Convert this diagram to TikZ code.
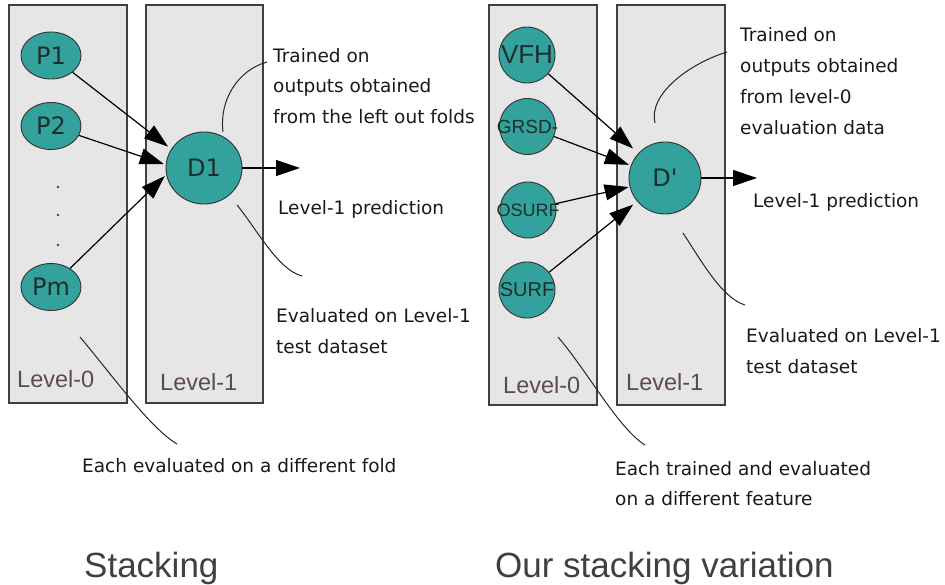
\documentclass[tikz,border=0pt]{standalone}
\usepackage{fontspec}
\setmainfont{Liberation Sans}
\newfontfamily\annfont{DejaVu Sans}
\usetikzlibrary{arrows.meta,shapes.geometric}
\definecolor{tealfill}{HTML}{33A29D}
\definecolor{panelfill}{HTML}{E6E6E6}
\definecolor{panelline}{HTML}{404040}
\definecolor{levelcol}{HTML}{5E4B4B}
\definecolor{nodetext}{HTML}{1C2E2E}
\definecolor{titlecol}{HTML}{404040}
\newcommand{\nolab}[1]{\makebox[0pt][c]{#1}}
\begin{document}
\begin{tikzpicture}[x=1pt,y=-1pt,
  panel/.style={draw=panelline,line width=1.2pt,fill=panelfill,inner sep=0pt},
  lvl/.style={anchor=base west,inner sep=0pt,text=levelcol,font=\fontsize{23.5}{26}\selectfont},
  ellnode/.style={ellipse,draw=black!80,line width=0.9pt,fill=tealfill,inner sep=0pt,text=nodetext},
  cirnode/.style={circle,draw=black!80,line width=0.9pt,fill=tealfill,inner sep=0pt,text=nodetext,minimum size=56pt},
  gfont/.style={font=\annfont\fontsize{24}{26}\selectfont},
  ann/.style={anchor=base west,inner sep=0pt,font=\annfont\fontsize{18.5}{22}\selectfont,text=black!90},
  title/.style={anchor=base west,inner sep=0pt,font=\fontsize{35}{40}\selectfont,text=titlecol},
  arr/.style={line width=1.2pt,-{Triangle[length=24pt,width=16pt]}},
  note/.style={line width=1pt,black!85}
]
\useasboundingbox (0,0) rectangle (945,585);

% ---------------- Stacking (left) ----------------
\node[panel,minimum width=118pt,minimum height=398pt] (L0a) at (68,204) {};
\node[panel,minimum width=117pt,minimum height=398pt] (L1a) at (204.5,204) {};
\node[lvl] (lv0a) at (17,387) {Level-0};
\node[lvl] (lv1a) at (160,390) {Level-1};

\node[ellnode,gfont,minimum width=60pt,minimum height=47pt] (P1) at (51,55.5) {\nolab{P1}};
\node[ellnode,gfont,minimum width=60pt,minimum height=47pt] (P2) at (51,126) {\nolab{P2}};
\node[ellnode,gfont,minimum width=60pt,minimum height=47pt] (Pm) at (51,287) {\nolab{Pm}};
\node[ellnode,gfont,minimum width=76pt,minimum height=72pt] (D1) at (204,168) {\nolab{D1}};

\fill[black!75] (58,187) circle (1.3pt) (58,215) circle (1.3pt) (58,245) circle (1.3pt);

\draw[arr,shorten >=4pt] (P1) -- (D1.150);
\draw[arr,shorten >=2pt] (P2) -- (D1.175);
\draw[arr,shorten >=2pt] (Pm) -- (D1.190);
\coordinate (outa) at (300,168);
\draw[arr] (D1.east) -- (outa);

\node[ann] (ta1) at (273,63) {Trained on};
\node[ann] (ta2) at (273,93) {outputs obtained};
\node[ann] (ta3) at (273,124) {from the left out folds};
\node[ann] (pa) at (278,215) {Level-1 prediction};
\node[ann] (ea1) at (276,323) {Evaluated on Level-1};
\node[ann] (ea2) at (276,353) {test dataset};
\node[ann] (ba) at (82,472) {Each evaluated on a different fold};
\node[title] (sa) at (84,577) {Stacking};

\coordinate (c1s) at (223,132); \coordinate (c1e) at (267,62);
\draw[note] (c1s) .. controls (219,100) and (238,70) .. (c1e);
\coordinate (c2s) at (237,205); \coordinate (c2e) at (302,276);
\draw[note] (c2s) .. controls (256,228) and (278,270) .. (c2e);
\coordinate (c3s) at (80,337); \coordinate (c3e) at (177,444);
\draw[note] (c3s) .. controls (112,375) and (150,428) .. (c3e);

% ---------------- Our stacking variation (right) ----------------
\node[panel,minimum width=108pt,minimum height=400pt] (L0b) at (543,205) {};
\node[panel,minimum width=108pt,minimum height=400pt] (L1b) at (671,205) {};
\node[lvl] (lv0b) at (503,393) {Level-0};
\node[lvl] (lv1b) at (626,390) {Level-1};

\node[cirnode,font=\fontsize{26}{28}\selectfont] (VFH) at (527,55) {\nolab{VFH}};
\node[cirnode,font=\fontsize{19}{21}\selectfont] (GRSD) at (527.5,126.5) {\nolab{GRSD-}};
\node[cirnode,font=\fontsize{18}{20}\selectfont] (OSURF) at (528,210) {\nolab{OSURF}};
\node[cirnode,font=\fontsize{20}{22}\selectfont] (SURF) at (527,290) {\nolab{SURF}};
\node[cirnode,gfont,minimum size=72pt] (Dp) at (665,178) {\nolab{D'}};

\draw[arr,shorten >=7pt] (VFH) -- (Dp.137);
\draw[arr,shorten >=2pt] (GRSD) -- (Dp.160);
\draw[arr,shorten >=1pt] (OSURF) -- (Dp.194);
\draw[arr,shorten >=5pt] (SURF) -- (Dp.220);
\coordinate (outb) at (757,178);
\draw[arr] (Dp.east) -- (outb);

\node[ann] (tb1) at (740,42) {Trained on};
\node[ann] (tb2) at (740,73) {outputs obtained};
\node[ann] (tb3) at (740,104) {from level-0};
\node[ann] (tb4) at (740,135) {evaluation data};
\node[ann] (pb) at (753,208) {Level-1 prediction};
\node[ann] (eb1) at (746,342) {Evaluated on Level-1};
\node[ann] (eb2) at (746,373) {test dataset};
\node[ann] (bb1) at (615,475) {Each trained and evaluated};
\node[ann] (bb2) at (615,505) {on a different feature};
\node[title] (sb) at (495,577) {Our stacking variation};

\coordinate (d1s) at (655,123); \coordinate (d1e) at (727,52);
\draw[note] (d1s) .. controls (648,95) and (688,64) .. (d1e);
\coordinate (d2s) at (683,233); \coordinate (d2e) at (745,305);
\draw[note] (d2s) .. controls (702,262) and (722,298) .. (d2e);
\coordinate (d3s) at (558,337); \coordinate (d3e) at (645,445);
\draw[note] (d3s) .. controls (588,372) and (618,428) .. (d3e);
\end{tikzpicture}
\end{document}
